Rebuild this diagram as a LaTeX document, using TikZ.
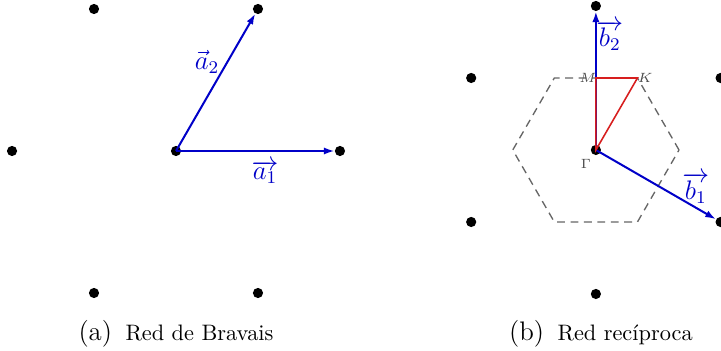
\documentclass[tikz,border=0pt]{standalone}
\usetikzlibrary{calc,arrows.meta}
\definecolor{vecblue}{RGB}{0,0,200}
\definecolor{pathred}{RGB}{215,30,30}

\begin{document}
\begin{tikzpicture}[x=1cm,y=1cm,every node/.style={inner sep=1pt},
  vec/.style={vecblue,line width=0.9pt,-{Latex[length=4.8pt,width=3.2pt]},shorten >=2.4pt},
  veclabel/.style={text=vecblue,font=\large},
  bz/.style={black!60,line width=0.6pt,dash pattern=on 3.5pt off 2.5pt},
  kpath/.style={pathred,line width=0.7pt},
  kpoint/.style={text=black!70,font=\fontsize{6}{7}\selectfont,inner sep=0pt},
  caption/.style={anchor=base,font=\normalsize}]
\useasboundingbox (0,0) rectangle (11.336,5.518);

% red de Bravais
\coordinate (O) at (2.767,3.144);
\foreach \ang/\nm in {0/A1,60/A2,120/A3,180/A4,240/A5,300/A6}
  \coordinate (\nm) at ($(O)+(\ang:2.578)$);
\foreach \p in {O,A1,A2,A3,A4,A5,A6}
  \fill (\p) circle (0.08);
\draw[vec] (O) -- (A1);
\draw[vec] (O) -- (A2);
\node[veclabel] (la1) at ($(O)+(1.40,-0.33)$) {$\overrightarrow{a_1}$};
\node[veclabel] (la2) at ($(O)+(0.487,1.399)$) {$\vec{a}_2$};

% red reciproca
\coordinate (G) at (9.369,3.160);
\foreach \ang/\nm in {90/B2,30/B3,-30/B1,-90/B4,-150/B5,150/B6}
  \coordinate (\nm) at ($(G)+(\ang:2.264)$);
\foreach \ang/\nm in {0/H1,60/H2,120/H3,180/H4,240/H5,300/H6}
  \coordinate (\nm) at ($(G)+(\ang:1.307)$);
\coordinate (M) at ($(H2)!0.5!(H3)$);
\coordinate (K) at (H2);
\foreach \p in {G,B1,B2,B3,B4,B5,B6}
  \fill (\p) circle (0.08);
\draw[bz] (H1) -- (H2) -- (H3) -- (H4) -- (H5) -- (H6) -- cycle;
\draw[vec] (G) -- (B2);
\draw[vec] (G) -- (B1);
\draw[kpath] (G) -- (M) -- (K) -- cycle;
\node[veclabel] (lb2) at ($(G)+(0.22,1.80)$) {$\overrightarrow{b_2}$};
\node[veclabel] (lb1) at ($(G)+(1.572,-0.597)$) {$\overrightarrow{b_1}$};
\node[kpoint,anchor=east] (lM) at ($(M)+(0.015,0)$) {$M$};
\node[kpoint,anchor=west] (lK) at (K) {$K$};
\node[kpoint] (lG) at ($(G)+(-0.157,-0.22)$) {$\Gamma$};

% captions
\node[caption] (capa) at (2.767,0.157) {{\large(a)}\hspace{0.6em}Red de Bravais};
\node[caption] (capb) at (9.448,0.157) {{\large(b)}\hspace{0.6em}Red recíproca};
\end{tikzpicture}
\end{document}
